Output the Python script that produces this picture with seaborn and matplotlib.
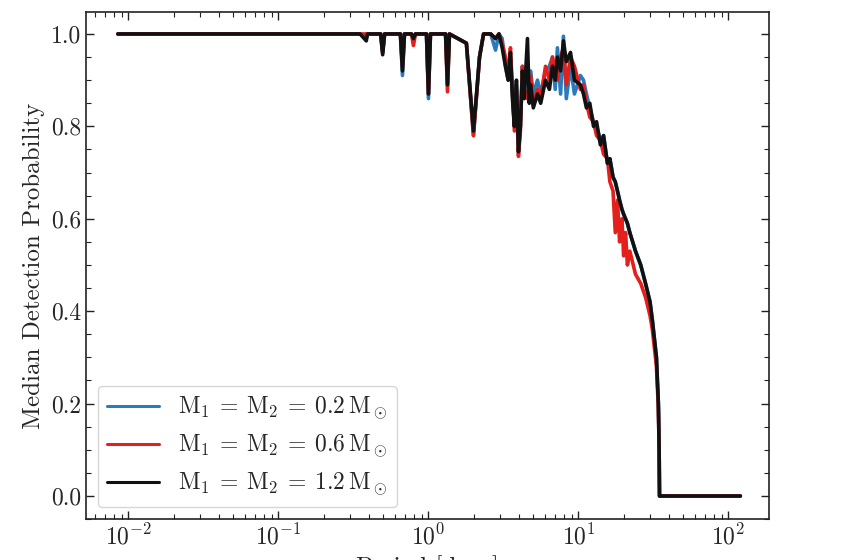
import matplotlib
matplotlib.use("Agg")
import matplotlib.pyplot as plt
import matplotlib.ticker as mticker
import numpy as np
import pandas as pd
import seaborn as sns

# orbital period grid [days]
period = [0.0085, 0.35, 0.385, 0.392, 0.48, 0.495, 0.51, 0.65, 0.671, 0.692,
          0.77, 0.794, 0.819, 0.97, 1.0, 1.031, 1.30, 1.339, 1.38, 1.79,
          1.995, 2.19, 2.33, 2.6, 2.80, 2.95, 3.10, 3.26, 3.40, 3.52,
          3.63, 3.74, 3.86, 3.98, 4.10, 4.23, 4.35, 4.57, 4.70, 4.79,
          5.0, 5.33, 5.6, 6.03, 6.4, 6.71, 7.0, 7.24, 7.6, 7.94,
          8.3, 8.85, 9.4, 10.3, 10.8, 11.3, 11.9, 12.6, 13.2, 14.0,
          14.7, 15.6, 16.2, 17.0, 17.6, 18.2, 18.8, 19.5, 20.0, 20.6,
          21.2, 22.0, 24.0, 26.0, 28.0, 30.0, 31.1, 33.1, 34.1, 34.5,
          34.7, 120.0]

# median detection probability for each mass
prob_02 = [1.0, 1.0, 0.99, 1.0, 1.0, 0.96, 1.0, 1.0, 0.91, 1.0,
           1.0, 0.99, 1.0, 1.0, 0.86, 1.0, 1.0, 0.89, 1.0, 0.98,
           0.78, 0.95, 1.0, 1.0, 0.965, 1.0, 0.99, 0.93, 0.90, 0.95,
           0.87, 0.80, 0.89, 0.745, 0.80, 0.93, 0.87, 0.94, 0.88, 0.92,
           0.87, 0.90, 0.87, 0.92, 0.93, 0.95, 0.88, 0.97, 0.87, 0.995,
           0.86, 0.93, 0.87, 0.91, 0.90, 0.87, 0.84, 0.81, 0.80, 0.77,
           0.78, 0.72, 0.73, 0.69, 0.68, 0.66, 0.64, 0.62, 0.61, 0.60,
           0.59, 0.57, 0.53, 0.50, 0.46, 0.42, 0.38, 0.30, 0.20, 0.10,
           0.0, 0.0]
prob_06 = [1.0, 1.0, 1.0, 1.0, 1.0, 0.96, 1.0, 1.0, 0.93, 1.0,
           1.0, 0.975, 1.0, 1.0, 0.87, 1.0, 1.0, 0.875, 1.0, 0.98,
           0.78, 0.95, 1.0, 1.0, 0.99, 1.0, 0.98, 0.95, 0.91, 0.97,
           0.88, 0.79, 0.88, 0.735, 0.79, 0.93, 0.88, 0.86, 0.89, 0.91,
           0.85, 0.88, 0.86, 0.93, 0.90, 0.95, 0.92, 0.90, 0.95, 0.97,
           0.89, 0.95, 0.93, 0.88, 0.89, 0.85, 0.82, 0.81, 0.78, 0.77,
           0.74, 0.73, 0.68, 0.66, 0.57, 0.64, 0.55, 0.60, 0.52, 0.57,
           0.50, 0.53, 0.48, 0.46, 0.43, 0.39, 0.36, 0.28, 0.19, 0.10,
           0.0, 0.0]
prob_12 = [1.0, 1.0, 0.985, 1.0, 1.0, 0.955, 1.0, 1.0, 0.92, 1.0,
           1.0, 0.99, 1.0, 1.0, 0.87, 1.0, 1.0, 0.89, 1.0, 0.98,
           0.79, 0.95, 1.0, 1.0, 0.99, 1.0, 0.97, 0.93, 0.90, 0.96,
           0.86, 0.80, 0.90, 0.745, 0.80, 0.92, 0.86, 0.99, 0.85, 0.89,
           0.84, 0.87, 0.85, 0.90, 0.88, 0.93, 0.90, 0.95, 0.92, 0.985,
           0.94, 0.96, 0.90, 0.89, 0.87, 0.84, 0.85, 0.80, 0.81, 0.76,
           0.78, 0.72, 0.73, 0.69, 0.68, 0.66, 0.64, 0.62, 0.61, 0.60,
           0.59, 0.57, 0.53, 0.50, 0.46, 0.42, 0.38, 0.30, 0.20, 0.10,
           0.0, 0.0]

labels = [r"$\mathrm{M}_1 \:=\: \mathrm{M}_2 \:=\: 0.2\,\mathrm{M}_\odot$",
          r"$\mathrm{M}_1 \:=\: \mathrm{M}_2 \:=\: 0.6\,\mathrm{M}_\odot$",
          r"$\mathrm{M}_1 \:=\: \mathrm{M}_2 \:=\: 1.2\,\mathrm{M}_\odot$"]
colors = ["#2b7bba", "#e3201c", "#111111"]

frames = []
for lab, vals in zip(labels, [prob_02, prob_06, prob_12]):
    frames.append(pd.DataFrame({"period": period, "prob": vals, "mass": lab}))
df = pd.concat(frames, ignore_index=True)

sns.set_style("ticks")
plt.rcParams["font.family"] = "serif"
plt.rcParams["font.serif"] = ["cmr10", "DejaVu Serif"]
plt.rcParams["mathtext.fontset"] = "cm"
plt.rcParams["axes.formatter.use_mathtext"] = True

fig, ax = plt.subplots(figsize=(8.5, 5.6), dpi=100)
fig.subplots_adjust(left=0.101, right=0.905, top=0.979, bottom=0.073)

sns.lineplot(data=df, x="period", y="prob", hue="mass", palette=colors,
             estimator=None, sort=False, linewidth=2.6, ax=ax)

ax.set_xscale("log")
ax.set_xlim(0.0052, 187)
ax.set_ylim(-0.05, 1.048)
ax.yaxis.set_major_locator(mticker.MultipleLocator(0.2))
ax.yaxis.set_minor_locator(mticker.MultipleLocator(0.05))
ax.yaxis.set_major_formatter(mticker.FormatStrFormatter("%.1f"))
ax.tick_params(which="both", direction="in", top=True, right=True,
               labelsize=17, color="#222222")
ax.tick_params(which="major", length=6, width=1)
ax.tick_params(which="minor", length=3.5, width=0.8)
for sp in ax.spines.values():
    sp.set_linewidth(1.2)
    sp.set_color("#222222")

ax.set_xlabel("Period [days]", fontsize=18)
ax.set_ylabel("Median Detection Probability", fontsize=18)

leg = ax.legend(loc="lower left", fontsize=17, frameon=True, handlelength=2.2,
                borderaxespad=0.5, labelspacing=0.45)
leg.get_frame().set_edgecolor("#cccccc")
for h in leg.get_lines():
    h.set_linewidth(2.2)

plt.savefig("out.png", dpi=100)
